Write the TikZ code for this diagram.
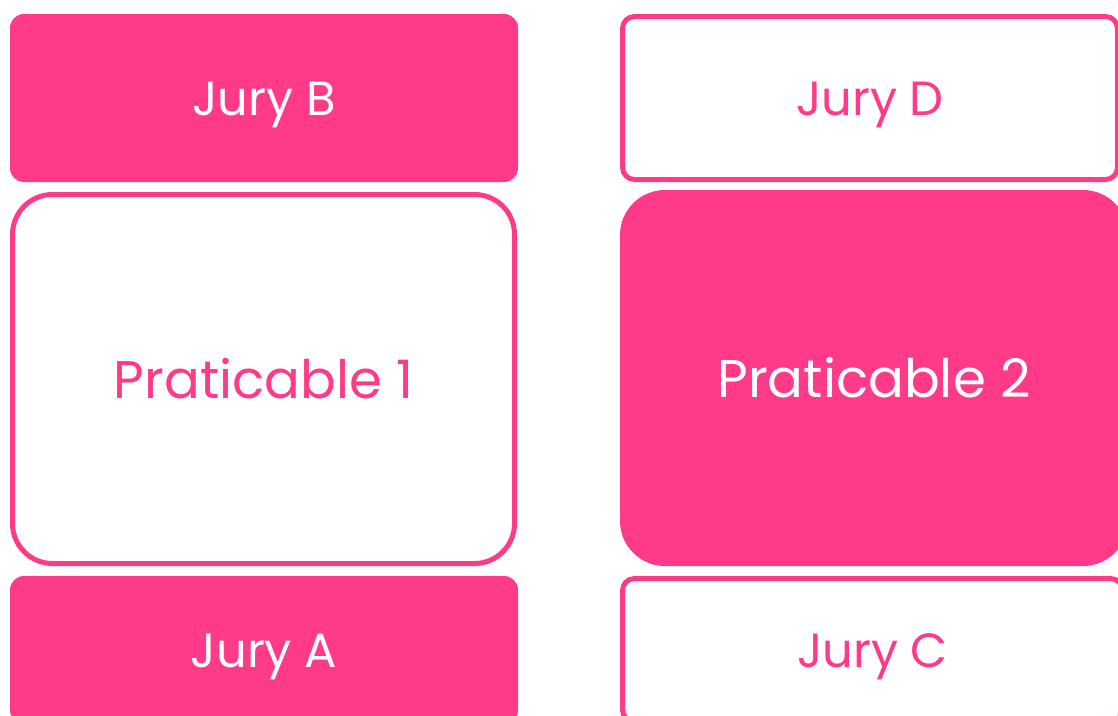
\documentclass[tikz,border=0pt]{standalone}
\usepackage{fontspec}
\setmainfont{Poppins}
\definecolor{jpink}{HTML}{FF3A88}
\begin{document}
\begin{tikzpicture}[x=1pt,y=-1pt,
  fillbox/.style={rectangle, fill=jpink, draw=none, inner sep=0pt, text=white},
  linebox/.style={rectangle, draw=jpink, line width=5pt, fill=white, inner sep=0pt, text=jpink},
  jurytxt/.style={font=\fontsize{48}{56}\selectfont, text height=46pt, text depth=12pt},
  pratxt/.style={font=\fontsize{53}{60}\selectfont}]
\useasboundingbox (0,0) rectangle (1118,715);
\clip (0,0) rectangle (1118,715);
\fill[white] (0,0) rectangle (1118,715);
\node[fillbox, jurytxt, rounded corners=14pt, minimum width=508pt, minimum height=168pt] (juryB) at (264,98) {Jury B};
\node[linebox, pratxt, rounded corners=40pt, minimum width=502pt, minimum height=369pt] (prat1) at (263.5,379) {Praticable 1};
\node[fillbox, jurytxt, rounded corners=14pt, minimum width=508pt, minimum height=148pt] (juryA) at (264,650) {Jury A};
\node[linebox, jurytxt, rounded corners=12pt, minimum width=495pt, minimum height=163pt] (juryD) at (870,98) {Jury D};
\node[fillbox, pratxt, rounded corners=45pt, minimum width=508pt, minimum height=376pt] (prat2) at (874,378) {Praticable 2};
\node[linebox, jurytxt, rounded corners=12pt, minimum width=500pt, minimum height=143pt] (juryC) at (872.5,650) {Jury C};
\end{tikzpicture}
\end{document}
